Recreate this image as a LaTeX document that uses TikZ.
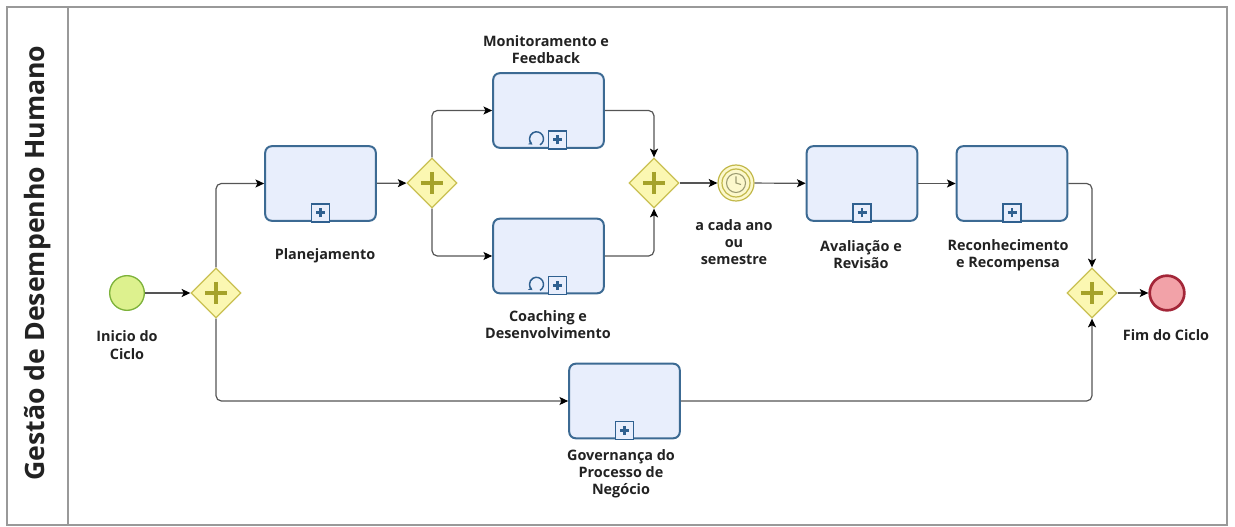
\documentclass[tikz,border=0pt]{standalone}
\usepackage{fontspec}
\setmainfont{Open Sans}
\usetikzlibrary{arrows.meta,shapes.geometric,calc}

\definecolor{taskfill}{HTML}{E8EEFC}
\definecolor{taskline}{HTML}{3C6A93}
\definecolor{markline}{HTML}{2F6090}
\definecolor{gwfill}{HTML}{FBF7B2}
\definecolor{gwline}{HTML}{C9C052}
\definecolor{gwplus}{HTML}{A5A22A}
\definecolor{startfill}{HTML}{DDF18E}
\definecolor{startline}{HTML}{7DB23A}
\definecolor{endfill}{HTML}{F2A2A8}
\definecolor{endline}{HTML}{A32638}
\definecolor{timerfill}{HTML}{FCF8CC}
\definecolor{timerline}{HTML}{C2B84A}
\definecolor{clockline}{HTML}{9A9A70}
\definecolor{flowline}{HTML}{555555}
\definecolor{poolline}{HTML}{999999}
\definecolor{labeltext}{HTML}{222222}

\tikzset{
  task/.style={draw=taskline, fill=taskfill, line width=1.5pt, rounded corners=5pt,
    minimum width=83pt, minimum height=56pt, inner sep=0pt},
  gateway/.style={diamond, draw=gwline, fill=gwfill, line width=1pt,
    minimum width=37.5pt, minimum height=37.5pt, inner sep=0pt},
  startevent/.style={circle, draw=startline, fill=startfill, line width=1pt,
    minimum size=26pt, inner sep=0pt},
  endevent/.style={circle, draw=endline, fill=endfill, line width=2pt,
    minimum size=26pt, inner sep=0pt},
  timerevent/.style={circle, draw=timerline, fill=timerfill, line width=0.9pt,
    minimum size=27pt, inner sep=0pt},
  flow/.style={draw=flowline, line width=0.9pt, rounded corners=4pt,
    -{Stealth[length=6.5pt, width=6pt, inset=1.5pt, color=black]}},
  lbl/.style={font=\bfseries\fontsize{10.8}{12.9}\selectfont, align=center,
    text=labeltext, inner sep=0pt},
  pooledge/.style={draw=poolline, line width=1.2pt},
  gwcross/.style={draw=gwplus, line width=3.2pt},
  subproc/.pic={
    \draw[markline, line width=1.1pt, fill=taskfill] (-9,0) rectangle (9,-18);
    \draw[markline, line width=2.2pt] (0,-4.5) -- (0,-13.5) (-4.5,-9) -- (4.5,-9);
  },
  loopmark/.pic={
    \draw[markline, line width=1.1pt, -{Stealth[length=3pt, width=3.5pt]}]
      (60:7) arc[start angle=60, end angle=-235, radius=7];
  }
}

\begin{document}
\begin{tikzpicture}[x=0.75pt, y=-0.75pt]
\useasboundingbox (0,0) rectangle (1235,527);

% pool with its vertical name band
\draw[pooledge] (7,7) rectangle (1227,525);
\draw[pooledge] (68,7) -- (68,525);
\node[rotate=90, font=\bfseries\fontsize{20}{24}\selectfont, text=labeltext]
  (pooltitle) at (38,263) {Gestão de Desempenho Humano};

% events
\node[startevent] (start) at (127,293) {};
\node[endevent] (finish) at (1167,293) {};
\node[timerevent] (timer) at (736,183) {};
\draw[timerline, line width=0.9pt] (timer.center) circle[radius=14];
\draw[clockline, line width=0.8pt] (timer.center) circle[radius=9.5];
\draw[clockline, line width=0.8pt] ($(timer.center)+(0,-6.5)$) -- (timer.center) -- ($(timer.center)+(5,1.5)$);

% gateways
\foreach \n/\x/\y in {g1/216/293, g2/432/183, g3/654/183, g4/1092/293}{
  \node[gateway] (\n) at (\x,\y) {};
  \draw[gwcross] ($(\n.center)+(-11,0)$) -- ($(\n.center)+(11,0)$)
                 ($(\n.center)+(0,-11)$) -- ($(\n.center)+(0,11)$);
}

% sub-process tasks
\node[task] (plan)  at (320.5,183.5) {};
\node[task] (mon)   at (548.5,110.5) {};
\node[task] (coach) at (548.5,256) {};
\node[task] (aval)  at (862,183.5) {};
\node[task] (recon) at (1012,183.5) {};
\node[task] (gov)   at (624.5,401) {};

\foreach \t in {plan, aval, recon, gov}{
  \pic at (\t.south) {subproc};
}
\foreach \t in {mon, coach}{
  \pic at ($(\t.south)+(9,0)$) {subproc};
  \pic at ($(\t.south)+(-12,-10)$) {loopmark};
}

% sequence flows
\draw[flow] (start) -- (g1);
\draw[flow] (g1.north) |- (plan.west);
\draw[flow] (g1.south) |- (gov.west);
\draw[flow] (plan) -- (g2);
\draw[flow] (g2.north) |- (mon.west);
\draw[flow] (g2.south) |- (coach.west);
\draw[flow] (mon.east) -| (g3.north);
\draw[flow] (coach.east) -| (g3.south);
\draw[flow] (g3) -- (timer);
\draw[flow] (timer) -- (aval);
\draw[flow] (aval) -- (recon);
\draw[flow] (recon.east) -| (g4.north);
\draw[flow] (gov.east) -| (g4.south);
\draw[flow] (g4) -- (finish);

% labels
\node[lbl] (lstart) at (127,345) {Inicio do\\Ciclo};
\node[lbl] (lplan)  at (325,256) {Planejamento};
\node[lbl] (lmon)   at (546,50)  {Monitoramento e\\Feedback};
\node[lbl] (lcoach) at (548,325) {Coaching e\\Desenvolvimento};
\node[lbl] (ltimer) at (734,242) {a cada ano\\ou\\semestre};
\node[lbl] (laval)  at (861,255) {Avaliação e\\Revisão};
\node[lbl] (lrecon) at (1008,255) {Reconhecimento\\e Recompensa};
\node[lbl] (lend)   at (1166,335) {Fim do Ciclo};
\node[lbl] (lgov)   at (621,474) {Governança do\\Processo de\\Negócio};
\end{tikzpicture}
\end{document}
